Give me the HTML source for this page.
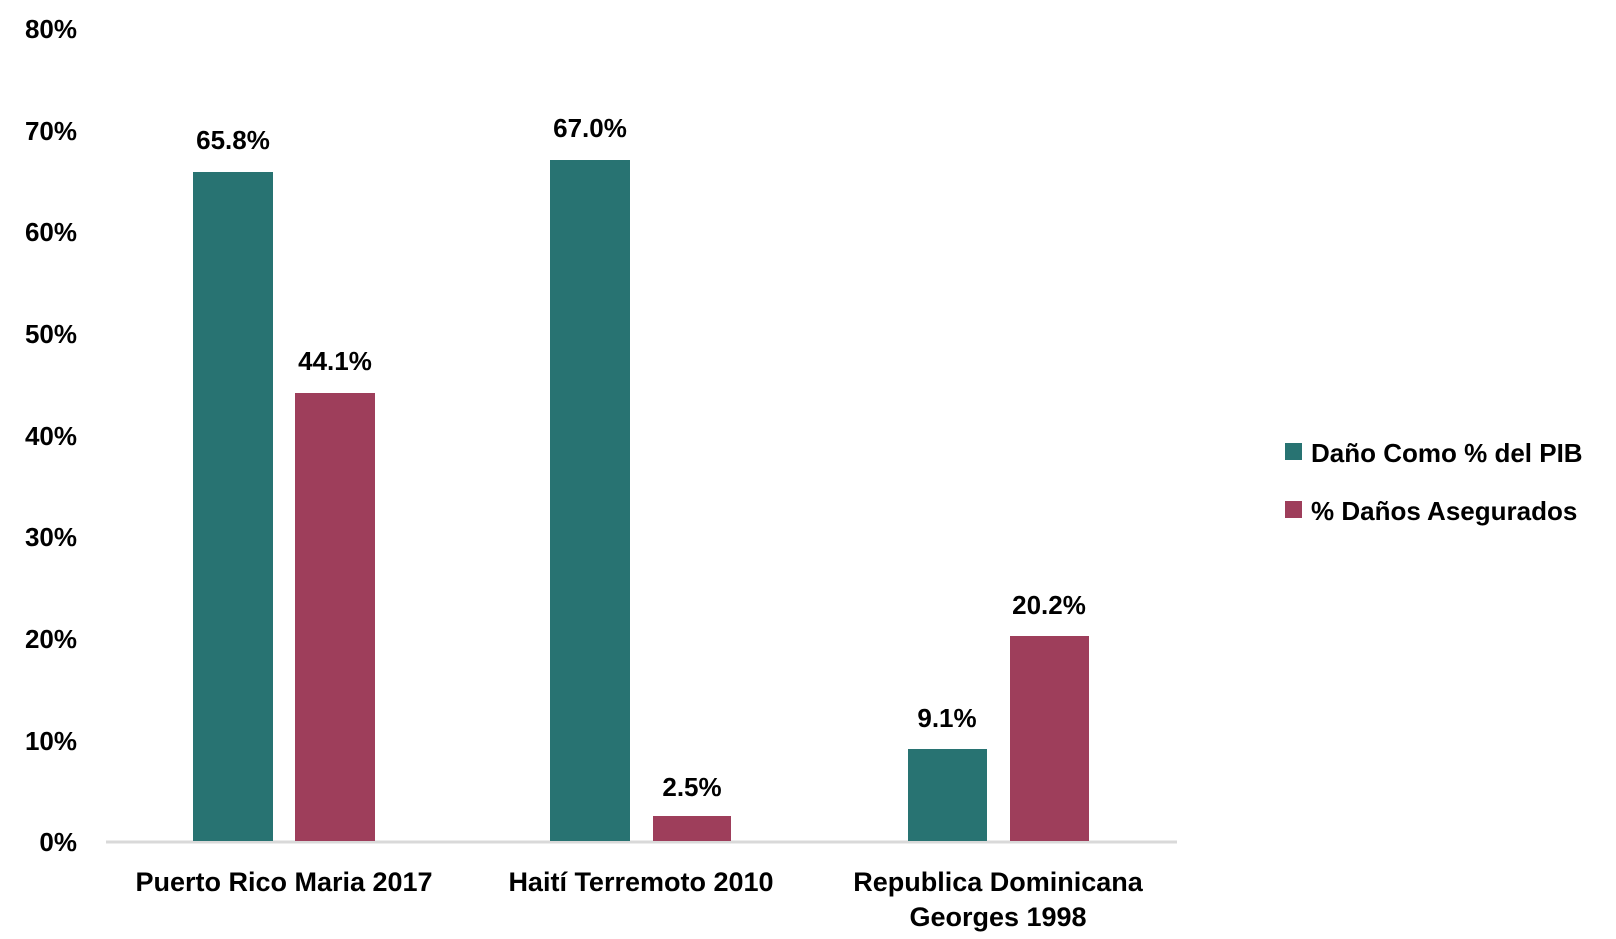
<!DOCTYPE html>
<html><head><meta charset="utf-8"><style>
html,body{margin:0;padding:0;background:#fff;}
svg text{font-family:"Liberation Sans",sans-serif;font-weight:bold;fill:#000;}
</style></head><body>
<svg width="1616" height="934" xmlns="http://www.w3.org/2000/svg">
<g font-size="26" text-anchor="end">
<text x="77" y="38">80%</text>
<text x="77" y="140">70%</text>
<text x="77" y="241">60%</text>
<text x="77" y="343">50%</text>
<text x="77" y="445">40%</text>
<text x="77" y="546">30%</text>
<text x="77" y="648">20%</text>
<text x="77" y="750">10%</text>
<text x="77" y="851">0%</text>
</g>
<line x1="106" y1="842" x2="1177" y2="842" stroke="#d9d9d9" stroke-width="3"/>
<g fill="#287372">
<rect x="193" y="172" width="80" height="669"/>
<rect x="550" y="160" width="80" height="681"/>
<rect x="908" y="749" width="79" height="92"/>
</g>
<g fill="#9e3e5b">
<rect x="295" y="393" width="80" height="448"/>
<rect x="653" y="816" width="78" height="25"/>
<rect x="1010" y="636" width="79" height="205"/>
</g>
<g font-size="26" text-anchor="middle">
<text x="233" y="149">65.8%</text>
<text x="335" y="370">44.1%</text>
<text x="590" y="137">67.0%</text>
<text x="692" y="796">2.5%</text>
<text x="947" y="727">9.1%</text>
<text x="1049" y="614">20.2%</text>
</g>
<g font-size="27" text-anchor="middle">
<text x="284" y="891">Puerto Rico Maria 2017</text>
<text x="641" y="891">Haití Terremoto 2010</text>
<text x="998" y="891">Republica Dominicana</text>
<text x="998" y="926">Georges 1998</text>
</g>
<rect x="1285" y="443" width="17" height="17" fill="#287372"/>
<rect x="1285" y="501" width="17" height="17" fill="#9e3e5b"/>
<text x="1311" y="462" font-size="26">Daño Como % del PIB</text>
<text x="1311" y="520" font-size="26">% Daños Asegurados</text>
</svg>
</body></html>
